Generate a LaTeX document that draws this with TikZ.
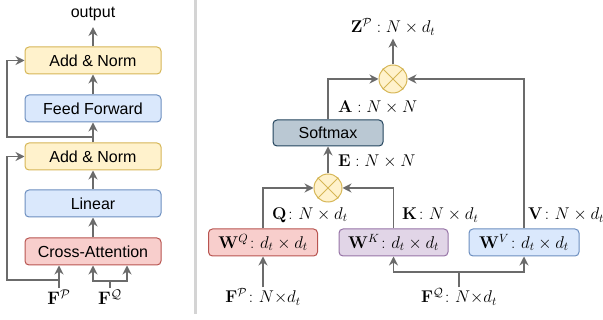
\documentclass[tikz,border=0pt]{standalone}
\usepackage{fix-cm}
\usepackage[no-math]{fontspec}
\newfontfamily\boxfont{Liberation Sans}
\usepackage{amsmath}
\usetikzlibrary{arrows.meta,positioning,calc}

\definecolor{lineg}{HTML}{6B6B6B}
\definecolor{yelfill}{HTML}{FFF2CC}
\definecolor{yeldraw}{HTML}{D6B656}
\definecolor{blufill}{HTML}{DAE8FC}
\definecolor{bludraw}{HTML}{6C8EBF}
\definecolor{redfill}{HTML}{F8CECC}
\definecolor{reddraw}{HTML}{B85450}
\definecolor{purfill}{HTML}{E1D5E7}
\definecolor{purdraw}{HTML}{9673A6}
\definecolor{smfill}{HTML}{BAC8D3}
\definecolor{smdraw}{HTML}{23445D}
\definecolor{divg}{HTML}{D4D4D4}

\begin{document}
\begin{tikzpicture}[x=1pt, y=-1pt,
  box/.style={rectangle, rounded corners=4pt, draw, line width=1pt, minimum height=27pt, inner sep=0pt, font=\boxfont\fontsize{16}{19}\selectfont},
  mathbox/.style={box, font=\fontsize{17}{20}\selectfont},
  addnorm/.style={box, fill=yelfill, draw=yeldraw, minimum width=136pt},
  bluebox/.style={fill=blufill, draw=bludraw},
  redbox/.style={fill=redfill, draw=reddraw},
  purbox/.style={fill=purfill, draw=purdraw},
  mul/.style={circle, draw=yeldraw, fill=yelfill, line width=1pt, minimum size=28pt, inner sep=0pt},
  lbl/.style={inner sep=1pt, font=\fontsize{17}{20}\selectfont},
  arr/.style={draw=lineg, line width=1.3pt, -{Stealth[length=9pt,width=9pt]}},
  ln/.style={draw=lineg, line width=1.3pt}
]
  \useasboundingbox (0,0) rectangle (603,320);

  % left: decoder block
  \node[inner sep=1pt, font=\boxfont\fontsize{16}{19}\selectfont] (out) at (93,14) {output};
  \node[addnorm] (an2) at (93,60.5) {Add \& Norm};
  \node[box, bluebox, minimum width=136pt] (ff) at (93,108.5) {Feed Forward};
  \node[addnorm] (an1) at (93,156.5) {Add \& Norm};
  \node[box, bluebox, minimum width=136pt] (lin) at (93,203.5) {Linear};
  \node[box, redbox, minimum width=136pt] (ca) at (93,251.5) {Cross-Attention};
  \node[lbl, font=\fontsize{18}{21}\selectfont] (fpl) at (59,297) {$\mathbf{F}^{\mathcal{P}}$};
  \node[lbl, font=\fontsize{18}{21}\selectfont] (fql) at (110,297) {$\mathbf{F}^{\mathcal{Q}}$};

  \draw[arr] (ca) -- (lin);
  \draw[arr] (lin) -- (an1);
  \draw[arr] (an1) -- (ff);
  \draw[arr] (ff) -- (an2);
  \draw[arr, shorten >=5pt] (an2) -- (out);

  \coordinate (ures) at (7,137);
  \coordinate (lres) at (7,280);
  \coordinate (qb) at (110,281);
  \draw[arr] (an1.north |- ures) -- (ures) |- (an2.west);
  \draw[arr] (fpl.north) -- (fpl.north |- ca.south);
  \draw[arr] (fpl.north |- lres) -- (lres) |- (an1.west);
  \draw[ln] (fql.north) -- (qb);
  \draw[arr] (qb) -| (ca.south);
  \draw[arr] (qb) -| ([xshift=34pt]ca.south);

  % divider
  \draw[divg, line width=3pt] (195,0) -- (195,314);

  % right: attention
  \node[lbl] (zp) at (393,27) {$\mathbf{Z}^{\mathcal{P}}:N\times d_t$};
  \node[mul] (m2) at (393,79) {};
  \node[box, fill=smfill, draw=smdraw, minimum width=110pt, minimum height=26pt] (sm) at (328,133) {Softmax};
  \node[mul] (m1) at (328,188) {};
  \node[mathbox, redbox, minimum width=109pt] (wq) at (263,242.5) {$\mathbf{W}^{Q}\colon d_t\times d_t$};
  \node[mathbox, purbox, minimum width=109pt] (wk) at (393.5,242.5) {$\mathbf{W}^{K}\colon d_t\times d_t$};
  \node[mathbox, bluebox, minimum width=110pt] (wv) at (524,242.5) {$\mathbf{W}^{V}\colon d_t\times d_t$};
  \node[lbl] (fp) at (263,297) {$\mathbf{F}^{\mathcal{P}}\colon N{\times}d_t$};
  \node[lbl] (fq) at (459,297) {$\mathbf{F}^{\mathcal{Q}}\colon N{\times}d_t$};

  \node[lbl, anchor=west] (al) at (337,107) {$\mathbf{A}:N\times N$};
  \node[lbl, anchor=west] (el) at (337,161) {$\mathbf{E}:N\times N$};
  \node[lbl, anchor=west] (ql) at (271,215) {$\mathbf{Q}\colon N\times d_t$};
  \node[lbl, anchor=west] (kl) at (401,215) {$\mathbf{K}\colon N\times d_t$};
  \node[lbl, anchor=west] (vl) at (527,215) {$\mathbf{V}\colon N\times d_t$};

  \foreach \m in {m1,m2}
    \draw[yeldraw, line width=1pt] (\m.north east) -- (\m.south west)
      (\m.north west) -- (\m.south east);

  \draw[arr] (fp) -- (wq);
  \draw[arr] (wq.north) |- (m1.west);
  \draw[arr] (wk.north) |- (m1.east);
  \draw[arr] (m1) -- (sm);
  \draw[arr] (sm.north) |- (m2.west);
  \draw[arr] (wv.north) |- (m2.east);
  \draw[arr, shorten >=2pt] (m2) -- (zp);
  \coordinate (kv) at (459,272);
  \draw[ln] (fq.north) -- (kv);
  \draw[arr] (kv) -| (wk.south);
  \draw[arr] (kv) -| (wv.south);
\end{tikzpicture}
\end{document}
